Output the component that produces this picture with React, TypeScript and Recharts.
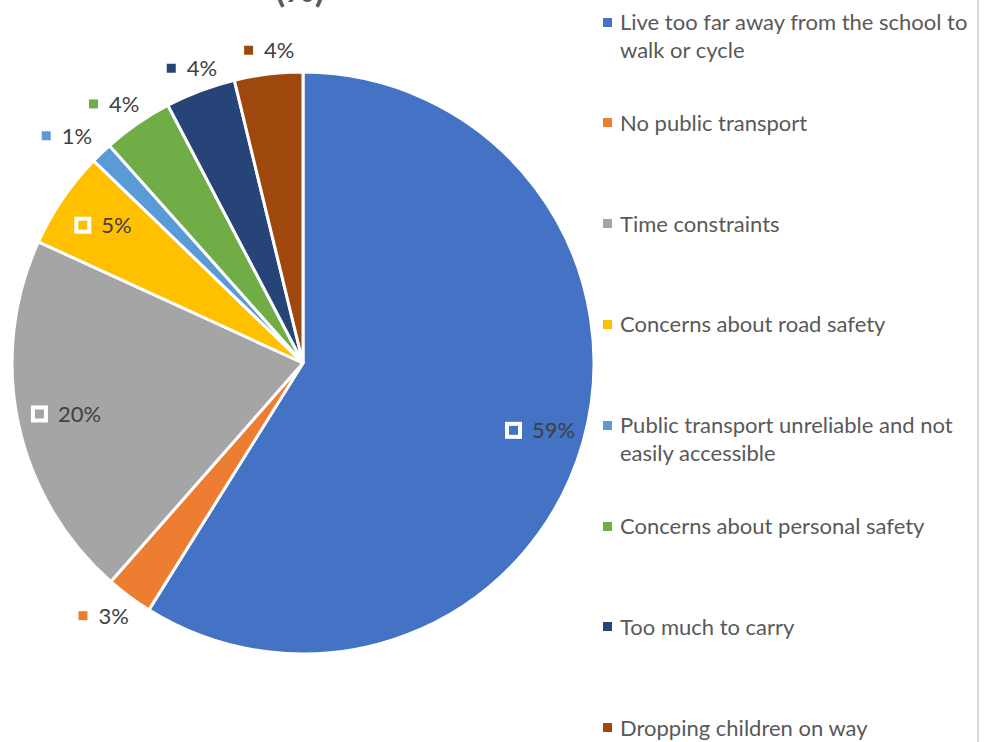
import { Cell, Legend, Pie, PieChart } from "recharts";

const reasons = [
	"Live too far away from the school to walk or cycle",
	"No public transport",
	"Time constraints",
	"Concerns about road safety",
	"Public transport unreliable and not easily accessible",
	"Concerns about personal safety",
	"Too much to carry",
	"Dropping children on way",
];

// share of respondents (%)
const shares = [59, 2.6, 20.4, 5.4, 1.2, 3.9, 3.9, 3.8];

const colors = ["#4472C4", "#ED7D31", "#A5A5A5", "#FFC000", "#5B9BD5", "#70AD47", "#264478", "#9E480E"];

const data = reasons.map((name, i) => ({ name, value: shares[i] }));

const FONT = "Lato, 'Open Sans', sans-serif";
const RAD = Math.PI / 180;

function SliceLabel(props: any) {
	const { cx, cy, midAngle, outerRadius, index, value } = props;
	const text = `${Math.round(value)}%`;
	const fontSize = 22;
	const textW = text.length * fontSize * 0.56;
	const cos = Math.cos(-midAngle * RAD);
	const sin = Math.sin(-midAngle * RAD);
	const inside = value >= 5;

	const markSize = inside ? 13 : 9;
	const gap = inside ? 12 : 11;
	const w = markSize + gap + textW;
	let bx: number;
	let by: number;
	if (inside) {
		const r = outerRadius * 0.84;
		bx = cx + r * cos;
		by = cy + r * sin;
	} else {
		// outside labels sit a bit further out the more sideways they are
		bx = cx + cos * (outerRadius + 9 + 65 * Math.abs(cos));
		by = cy + sin * (outerRadius + 24);
	}
	const left = bx - w / 2;
	return (
		<g>
			<rect
				x={left}
				y={by - markSize / 2}
				width={markSize}
				height={markSize}
				fill={colors[index]}
				stroke={inside ? "#fff" : "none"}
				strokeWidth={inside ? 4 : 0}
			/>
			<text
				x={left + markSize + gap}
				y={by}
				dy="0.36em"
				fontSize={fontSize}
				fontFamily={FONT}
				fill="#404040"
			>
				{text}
			</text>
		</g>
	);
}

// keep the series order (the default legend sorts by name)
function LegendList() {
	return (
		<div style={{ fontFamily: FONT, fontSize: 22, color: "#595959" }}>
			{reasons.map((name, i) => (
				<div key={name} style={{ position: "absolute", top: 8 + i * 100.8, left: 0, display: "flex", alignItems: "flex-start" }}>
					<span
						style={{
							display: "inline-block",
							flex: "none",
							width: 9,
							height: 9,
							marginTop: 9.5,
							marginRight: 8,
							background: colors[i],
						}}
					/>
					<span style={{ width: 356, lineHeight: "28px" }}>{name}</span>
				</div>
			))}
		</div>
	);
}

export default function App() {
	return (
		<div
			style={{
				position: "absolute",
				left: 0,
				top: 0,
				width: 977,
				height: 742,
				borderRight: "2px solid #D9D9D9",
				background: "#fff",
				overflow: "hidden",
			}}
		>
			<PieChart width={977} height={742} margin={{ top: 0, right: 0, bottom: 0, left: 0 }}>
				<text x={300} y={2} textAnchor="middle" fontSize={36} fontWeight="bold" fontFamily={FONT} fill="#595959">
					(%)
				</text>
				<Pie
					data={data}
					dataKey="value"
					nameKey="name"
					cx={303}
					cy={363}
					outerRadius={291}
					startAngle={90}
					endAngle={-270}
					stroke="#fff"
					strokeWidth={3}
					label={SliceLabel}
					labelLine={false}
					isAnimationActive={false}
				>
					{data.map((d, i) => (
						<Cell key={d.name} fill={colors[i]} />
					))}
				</Pie>
				<Legend
					layout="vertical"
					verticalAlign="top"
					align="right"
					content={LegendList}
					wrapperStyle={{ left: 603, top: 0, width: 370, height: 742 }}
				/>
			</PieChart>
		</div>
	);
}
